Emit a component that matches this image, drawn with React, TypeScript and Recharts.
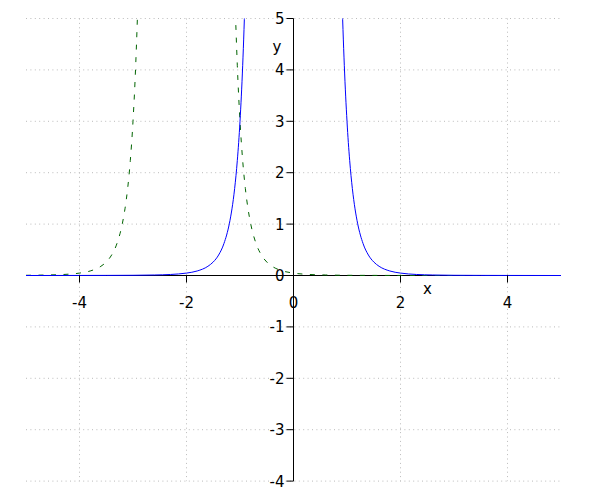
import React from "react";
import {
  LineChart,
  Line,
  XAxis,
  YAxis,
  CartesianGrid,
  ReferenceLine,
  Customized,
} from "recharts";

// values
const BLUE_X = [-5, -4, -3.5, -3, -2.6, -2.3, -2, -1.8, -1.6, -1.5, -1.4, -1.3, -1.2, -1.15, -1.1, -1.05, -1, -0.95, -0.9, -0.85, -0.8, 0, 0.8, 0.85, 0.9, 0.95, 1, 1.05, 1.1, 1.15, 1.2, 1.3, 1.4, 1.5, 1.6, 1.8, 2, 2.3, 2.6, 3, 3.5, 4, 5];
const BLUE_Y = [0, 0.001, 0.002, 0.004, 0.01, 0.02, 0.047, 0.088, 0.179, 0.263, 0.398, 0.622, 1.005, 1.297, 1.693, 2.239, 3, 4.081, 5.645, 7.954, 11.44, null, 11.44, 7.954, 5.645, 4.081, 3, 2.239, 1.693, 1.297, 1.005, 0.622, 0.398, 0.263, 0.179, 0.088, 0.047, 0.02, 0.01, 0.004, 0.002, 0.001, 0];

const GREEN_X = [-5, -4.6, -4.3, -4, -3.8, -3.6, -3.5, -3.4, -3.3, -3.2, -3.15, -3.1, -3.05, -3, -2.95, -2.9, -2.85, -2.8, -2, -1.2, -1.15, -1.1, -1.05, -1, -0.95, -0.9, -0.85, -0.8, -0.7, -0.6, -0.5, -0.4, -0.2, 0, 0.3, 0.6, 1, 1.5, 2, 3, 5];
const GREEN_Y = [0.004, 0.01, 0.02, 0.047, 0.088, 0.179, 0.263, 0.398, 0.622, 1.005, 1.297, 1.693, 2.239, 3, 4.081, 5.645, 7.954, 11.44, null, 11.44, 7.954, 5.645, 4.081, 3, 2.239, 1.693, 1.297, 1.005, 0.622, 0.398, 0.263, 0.179, 0.088, 0.047, 0.02, 0.01, 0.004, 0.002, 0.001, 0, 0];

const X_TICKS = [-4, -2, 0, 2, 4];
const Y_TICKS = [-4, -3, -2, -1, 0, 1, 2, 3, 4, 5];

const blueData = BLUE_X.map((x, i) => ({ x, y: BLUE_Y[i] }));
const greenData = GREEN_X.map((x, i) => ({ x, y: GREEN_Y[i] }));

const W = 600;
const H = 500;
const M = { top: 18.5, right: 39, bottom: 17.9, left: 25 };
const AXIS_SIZE = 1;
const FONT = "DejaVu Sans";

// where the axes cross (data origin) in pixels
const PLOT_W = W - M.left - M.right - AXIS_SIZE;
const PLOT_H = H - M.top - M.bottom - AXIS_SIZE;
const X0 = M.left + AXIS_SIZE + (PLOT_W * 5) / 10;
const Y0 = M.top + (PLOT_H * 5) / 9;

function XTick(p: any) {
  return (
    <g>
      <line x1={p.x} y1={Y0} x2={p.x} y2={Y0 + 7} stroke="#000" />
      <text x={p.x} y={Y0 + 32} textAnchor="middle" fontSize={15} fontFamily={FONT} fill="#000">
        {p.payload.value}
      </text>
    </g>
  );
}

function YTick(p: any) {
  return (
    <g>
      <line x1={X0 - 7} y1={p.y} x2={X0} y2={p.y} stroke="#000" />
      <text x={X0 - 9} y={p.y + 5.5} textAnchor="end" fontSize={15} fontFamily={FONT} fill="#000">
        {p.payload.value}
      </text>
    </g>
  );
}

function AxisTitles() {
  return (
    <g fontFamily={FONT} fontSize={15} fill="#000">
      <text x={427.5} y={294} textAnchor="middle">x</text>
      <text x={277} y={52} textAnchor="middle">y</text>
    </g>
  );
}

export default function App() {
  return (
    <div style={{ position: "absolute", left: 0, top: 0, background: "#fff" }}>
      <LineChart width={W} height={H} margin={M}>
        <CartesianGrid
          stroke="#bbb"
          strokeDasharray="1 3.4"
          verticalValues={X_TICKS}
          horizontalValues={Y_TICKS}
        />
        <XAxis
          type="number"
          dataKey="x"
          domain={[-5, 5]}
          ticks={X_TICKS}
          interval={0}
          allowDataOverflow
          axisLine={false}
          tickLine={false}
          height={AXIS_SIZE}
          tick={XTick}
        />
        <YAxis
          type="number"
          domain={[-4, 5]}
          ticks={Y_TICKS}
          interval={0}
          allowDataOverflow
          axisLine={false}
          tickLine={false}
          width={AXIS_SIZE}
          tick={YTick}
        />
        <ReferenceLine x={0} stroke="#000" strokeWidth={1} />
        <ReferenceLine y={0} stroke="#000" strokeWidth={1} />
        <Line
          data={greenData}
          dataKey="y"
          type="monotone"
          stroke="#006400"
          strokeWidth={1}
          strokeDasharray="5 7.5"
          dot={false}
          isAnimationActive={false}
        />
        <Line
          data={blueData}
          dataKey="y"
          type="monotone"
          stroke="#0000ff"
          strokeWidth={1}
          dot={false}
          isAnimationActive={false}
        />
        <Customized component={AxisTitles} />
      </LineChart>
    </div>
  );
}
